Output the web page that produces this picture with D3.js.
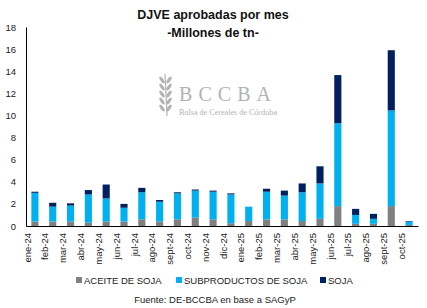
<!DOCTYPE html>
<html><head><meta charset="utf-8">
<script src="https://cdn.jsdelivr.net/npm/d3@7"></script>
<style>body{margin:0;background:#fff}svg{display:block}</style>
</head><body>
<script>
const categories = ["ene-24","feb-24","mar-24","abr-24","may-24","jun-24","jul-24","ago-24","sept-24","oct-24","nov-24","dic-24","ene-25","feb-25","mar-25","abr-25","may-25","jun-25","jul-25","ago-25","sept-25","oct-25"];
const aceite = [0.4,0.4,0.4,0.3,0.4,0.4,0.6,0.4,0.6,0.75,0.6,0.25,0.45,0.6,0.6,0.45,0.65,1.8,0.2,0.2,1.8,0.1];
const subproductos = [2.6,1.35,1.45,2.55,2.1,1.25,2.45,1.8,2.35,2.45,2.5,2.6,1.3,2.5,2.15,2.6,3.2,7.5,0.8,0.45,8.65,0.3];
const soja = [0.1,0.35,0.2,0.4,1.25,0.35,0.4,0.15,0.1,0.1,0.1,0.1,0,0.27,0.45,0.8,1.55,4.35,0.55,0.45,5.45,0.05];
const yTicks = [0,2,4,6,8,10,12,14,16,18];
const seriesNames = ["ACEITE DE SOJA","SUBPRODUCTOS DE SOJA","SOJA"];
const colors = ["#808080","#00B0F0","#002060"];

const W=427,H=308;
const svg=d3.select("body").append("svg").attr("width",W).attr("height",H);
const ff="Liberation Sans, Arial, sans-serif";

// watermark logo
const logo=svg.append("g").attr("fill","#b3b3b3");
const wx=165;
logo.append("line").attr("x1",wx).attr("y1",74).attr("x2",wx+2).attr("y2",116).attr("stroke","#b3b3b3").attr("stroke-width",1.2);
for(let i=0;i<5;i++){
  const yy=80+i*7;
  logo.append("ellipse").attr("cx",wx-3).attr("cy",yy).attr("rx",1.6).attr("ry",4).attr("transform",`rotate(-35,${wx-3},${yy})`);
  logo.append("ellipse").attr("cx",wx+4).attr("cy",yy).attr("rx",1.6).attr("ry",4).attr("transform",`rotate(35,${wx+4},${yy})`);
}
logo.append("text").attr("x",179).attr("y",101).attr("font-family","Liberation Serif, serif").attr("font-size",20).attr("textLength",92).attr("lengthAdjust","spacing").text("BCCBA");
logo.append("text").attr("x",179).attr("y",115).attr("font-family","Liberation Serif, serif").attr("font-size",7.5).attr("textLength",98).attr("lengthAdjust","spacingAndGlyphs").text("Bolsa de Cereales de Córdoba");

const x=d3.scaleBand().domain(categories).range([26,418]).paddingInner(0.6).paddingOuter(0.3);
const y=d3.scaleLinear().domain([0,18]).range([226,27]);

const data=categories.map((c,i)=>({cat:c,a:aceite[i],s:subproductos[i],j:soja[i]}));
const stack=d3.stack().keys(["a","s","j"])(data);
svg.append("g").selectAll("g").data(stack).join("g").attr("fill",(d,i)=>colors[i])
  .selectAll("rect").data(d=>d).join("rect")
  .attr("x",d=>x(d.data.cat)).attr("width",x.bandwidth())
  .attr("y",d=>y(d[1])).attr("height",d=>Math.max(0,y(d[0])-y(d[1])));

// y axis
const ya=svg.append("g").attr("transform","translate(26,0)").call(d3.axisLeft(y).tickValues(yTicks).tickSize(0).tickPadding(10));
ya.select(".domain").attr("stroke","#000");
ya.selectAll("text").attr("font-family",ff).attr("font-size",9.5).attr("fill","#222");
// x axis
const xa=svg.append("g").attr("transform","translate(0,226)").call(d3.axisBottom(x).tickSize(0).tickSizeOuter(0));
xa.select(".domain").attr("stroke","#000");
xa.selectAll("text").attr("font-family",ff).attr("font-size",9.5).attr("fill","#222")
  .attr("transform","rotate(-90)").attr("text-anchor","end").attr("dx","-7").attr("dy","-0.45em").attr("y",0).attr("x",0);

// title
svg.append("text").attr("x",213).attr("y",19).attr("text-anchor","middle").attr("font-family",ff).attr("font-weight","bold").attr("font-size",12.5).attr("fill","#111").text("DJVE aprobadas por mes");
svg.append("text").attr("x",213).attr("y",37).attr("text-anchor","middle").attr("font-family",ff).attr("font-weight","bold").attr("font-size",12.5).attr("fill","#111").text("-Millones de tn-");

// legend
const lx=[76,176,320];
seriesNames.forEach((n,i)=>{
  svg.append("rect").attr("x",lx[i]).attr("y",277).attr("width",6).attr("height",6).attr("fill",colors[i]);
  svg.append("text").attr("x",lx[i]+8).attr("y",283.5).attr("font-family",ff).attr("font-size",9.5).attr("fill","#222").text(n);
});
svg.append("text").attr("x",215).attr("y",303).attr("text-anchor","middle").attr("font-family",ff).attr("font-size",9.5).attr("fill","#222").text("Fuente: DE-BCCBA en base a SAGyP");
</script>
</body></html>
